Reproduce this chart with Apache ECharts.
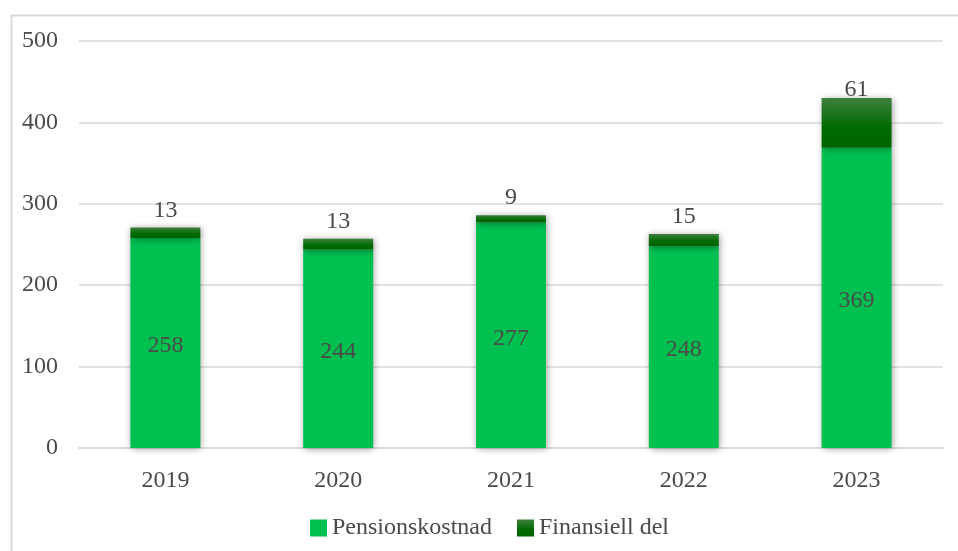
<!DOCTYPE html>
<html>
<head>
<meta charset="utf-8">
<script src="https://cdn.jsdelivr.net/npm/echarts@6/dist/echarts.min.js"></script>
<style>
  html, body { margin: 0; padding: 0; background: #fff; }
  #chart { width: 958px; height: 551px; }
</style>
</head>
<body>
<div id="chart"></div>
<script>
// Pension cost per year, split into the base cost and the financial part
const years = ['2019', '2020', '2021', '2022', '2023'];
const pensionskostnad = [258, 244, 277, 248, 369];
const finansiellDel = [13, 13, 9, 15, 61];
const yTicks = [0, 100, 200, 300, 400, 500];

const FONT = '"Liberation Serif", "Times New Roman", serif';
const FONT_SIZE = 24;
const TEXT = '#4a4a4a';
const GRID = '#d9d9d9';

const lightGreen = '#00c050';
const darkGreen = new echarts.graphic.LinearGradient(0, 0, 0, 1, [
  { offset: 0, color: '#3f7f3f' },
  { offset: 0.6, color: '#006a00' },
  { offset: 1, color: '#006400' }
]);

const barShadow = {
  shadowBlur: 7,
  shadowColor: 'rgba(0,0,0,0.4)',
  shadowOffsetX: 1,
  shadowOffsetY: 1
};

const chart = echarts.init(document.getElementById('chart'), null, { renderer: 'canvas' });

chart.setOption({
  animation: false,
  backgroundColor: '#fff',
  textStyle: { fontFamily: FONT },
  graphic: [{
    type: 'rect',
    left: 9, top: 13,
    shape: { width: 1000, height: 600 },
    style: { fill: 'none', stroke: GRID, lineWidth: 2 },
    silent: true
  }],
  grid: { left: 79, right: 15, top: 41, bottom: 103 },
  legend: {
    bottom: 6,
    left: 305,
    itemWidth: 17,
    itemHeight: 17,
    itemGap: 25,
    icon: 'rect',
    textStyle: { fontFamily: FONT, fontSize: FONT_SIZE, color: TEXT },
    data: ['Pensionskostnad', 'Finansiell del']
  },
  xAxis: {
    type: 'category',
    data: years,
    axisLine: { lineStyle: { color: GRID, width: 1.5 } },
    axisTick: { show: false },
    axisLabel: { fontFamily: FONT, fontSize: FONT_SIZE, color: TEXT, margin: 21 }
  },
  yAxis: {
    type: 'value',
    min: yTicks[0],
    max: yTicks[yTicks.length - 1],
    interval: 100,
    axisLine: { show: false },
    axisTick: { show: false },
    splitLine: { lineStyle: { color: GRID, width: 1.5 } },
    axisLabel: { fontFamily: FONT, fontSize: FONT_SIZE, color: TEXT, margin: 21 }
  },
  series: [
    {
      name: 'Pensionskostnad',
      type: 'bar',
      stack: 'total',
      barWidth: '40.5%',
      data: pensionskostnad,
      itemStyle: Object.assign({ color: lightGreen }, barShadow),
      label: {
        show: true,
        position: 'inside',
        offset: [0, 3],
        fontFamily: FONT,
        fontSize: FONT_SIZE,
        color: TEXT
      }
    },
    {
      name: 'Finansiell del',
      type: 'bar',
      stack: 'total',
      data: finansiellDel.map((v, i) => i === finansiellDel.length - 1
        ? { value: v, label: { distance: -4 } }
        : v),
      itemStyle: Object.assign({ color: darkGreen }, barShadow),
      label: {
        show: true,
        position: 'top',
        distance: 5,
        fontFamily: FONT,
        fontSize: FONT_SIZE,
        color: TEXT
      }
    }
  ]
});
</script>
</body>
</html>
